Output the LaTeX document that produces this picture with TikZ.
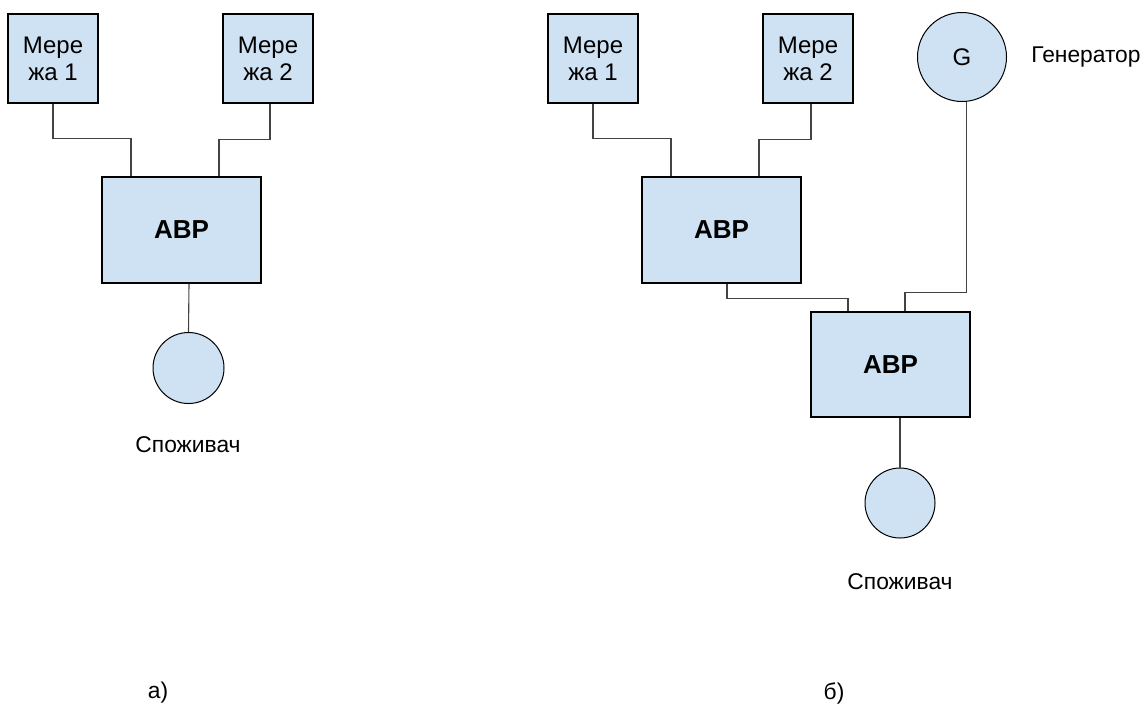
\documentclass[tikz,border=0pt]{standalone}
\usepackage{fontspec}
\setmainfont{Liberation Sans}
\definecolor{boxfill}{HTML}{CFE2F3}
\definecolor{wirecol}{HTML}{434343}
\begin{document}
\begin{tikzpicture}[x=0.5pt,y=-0.5pt,
  netbox/.style={draw=black,fill=boxfill,line width=0.6pt,minimum width=45pt,minimum height=44.5pt,inner sep=0pt,align=center,font=\fontsize{12}{13.5}\selectfont},
  avrbox/.style={draw=black,fill=boxfill,line width=0.6pt,minimum width=79.5pt,minimum height=53pt,inner sep=0pt,font=\fontsize{13}{15}\selectfont\bfseries},
  load/.style={circle,draw=black,fill=boxfill,line width=0.5pt,minimum size=35.5pt,inner sep=0pt},
  gen/.style={circle,draw=black,fill=boxfill,line width=0.5pt,minimum size=44.5pt,inner sep=0pt,font=\fontsize{12}{14}\selectfont},
  lbl/.style={inner sep=0pt,font=\fontsize{11.4}{13}\selectfont},
  wire/.style={draw=wirecol,line width=0.55pt}]
\useasboundingbox (0,0) rectangle (1144,709);
% ---------- a) ----------
\node[netbox] (LM1) at (53,58.5) {Мере\\жа 1};
\node[netbox] (LM2) at (268,58.5) {Мере\\жа 2};
\node[avrbox] (LA) at (181.5,230) {АВР};
\node[load] (LC) at (188.5,368) {};
\node[lbl] (LCL) at (188,445) {Споживач};
\node[lbl] (LT) at (158,693) {а)};
\draw[wire] (LM1.south) -- ++(0,35) -| ([xshift=-25.25pt]LA.north);
\draw[wire] ([xshift=1pt]LM2.south) -- ++(0,36) -| ([xshift=18.75pt]LA.north);
\draw[wire] ([xshift=3.75pt]LA.south) -- (LC.north);
% ---------- b) ----------
\node[netbox] (RM1) at (593,58.5) {Мере\\жа 1};
\node[netbox] (RM2) at (808,58.5) {Мере\\жа 2};
\node[gen] (G) at (962,57) {G};
\node[lbl] (GL) at (1086,57) {Генератор};
\node[avrbox] (RA1) at (721.5,230) {АВР};
\node[avrbox,minimum height=52.5pt] (RA2) at (890.5,364.5) {АВР};
\node[load,minimum size=35pt] (RC) at (900,503) {};
\node[lbl] (RCL) at (900,582) {Споживач};
\node[lbl] (RT) at (834,693) {б)};
\draw[wire] (RM1.south) -- ++(0,35) -| ([xshift=-25.25pt]RA1.north);
\draw[wire] ([xshift=1.5pt]RM2.south) -- ++(0,36) -| ([xshift=18.75pt]RA1.north);
\draw[wire] ([xshift=2.75pt]RA1.south) -- ++(0,15) -| ([xshift=-21.25pt]RA2.north);
\draw[wire] ([xshift=7.25pt]RA2.north) -- ++(0,-19) -| (G.-84);
\draw[wire] ([xshift=4.75pt]RA2.south) -- (RC.north);
\end{tikzpicture}
\end{document}
